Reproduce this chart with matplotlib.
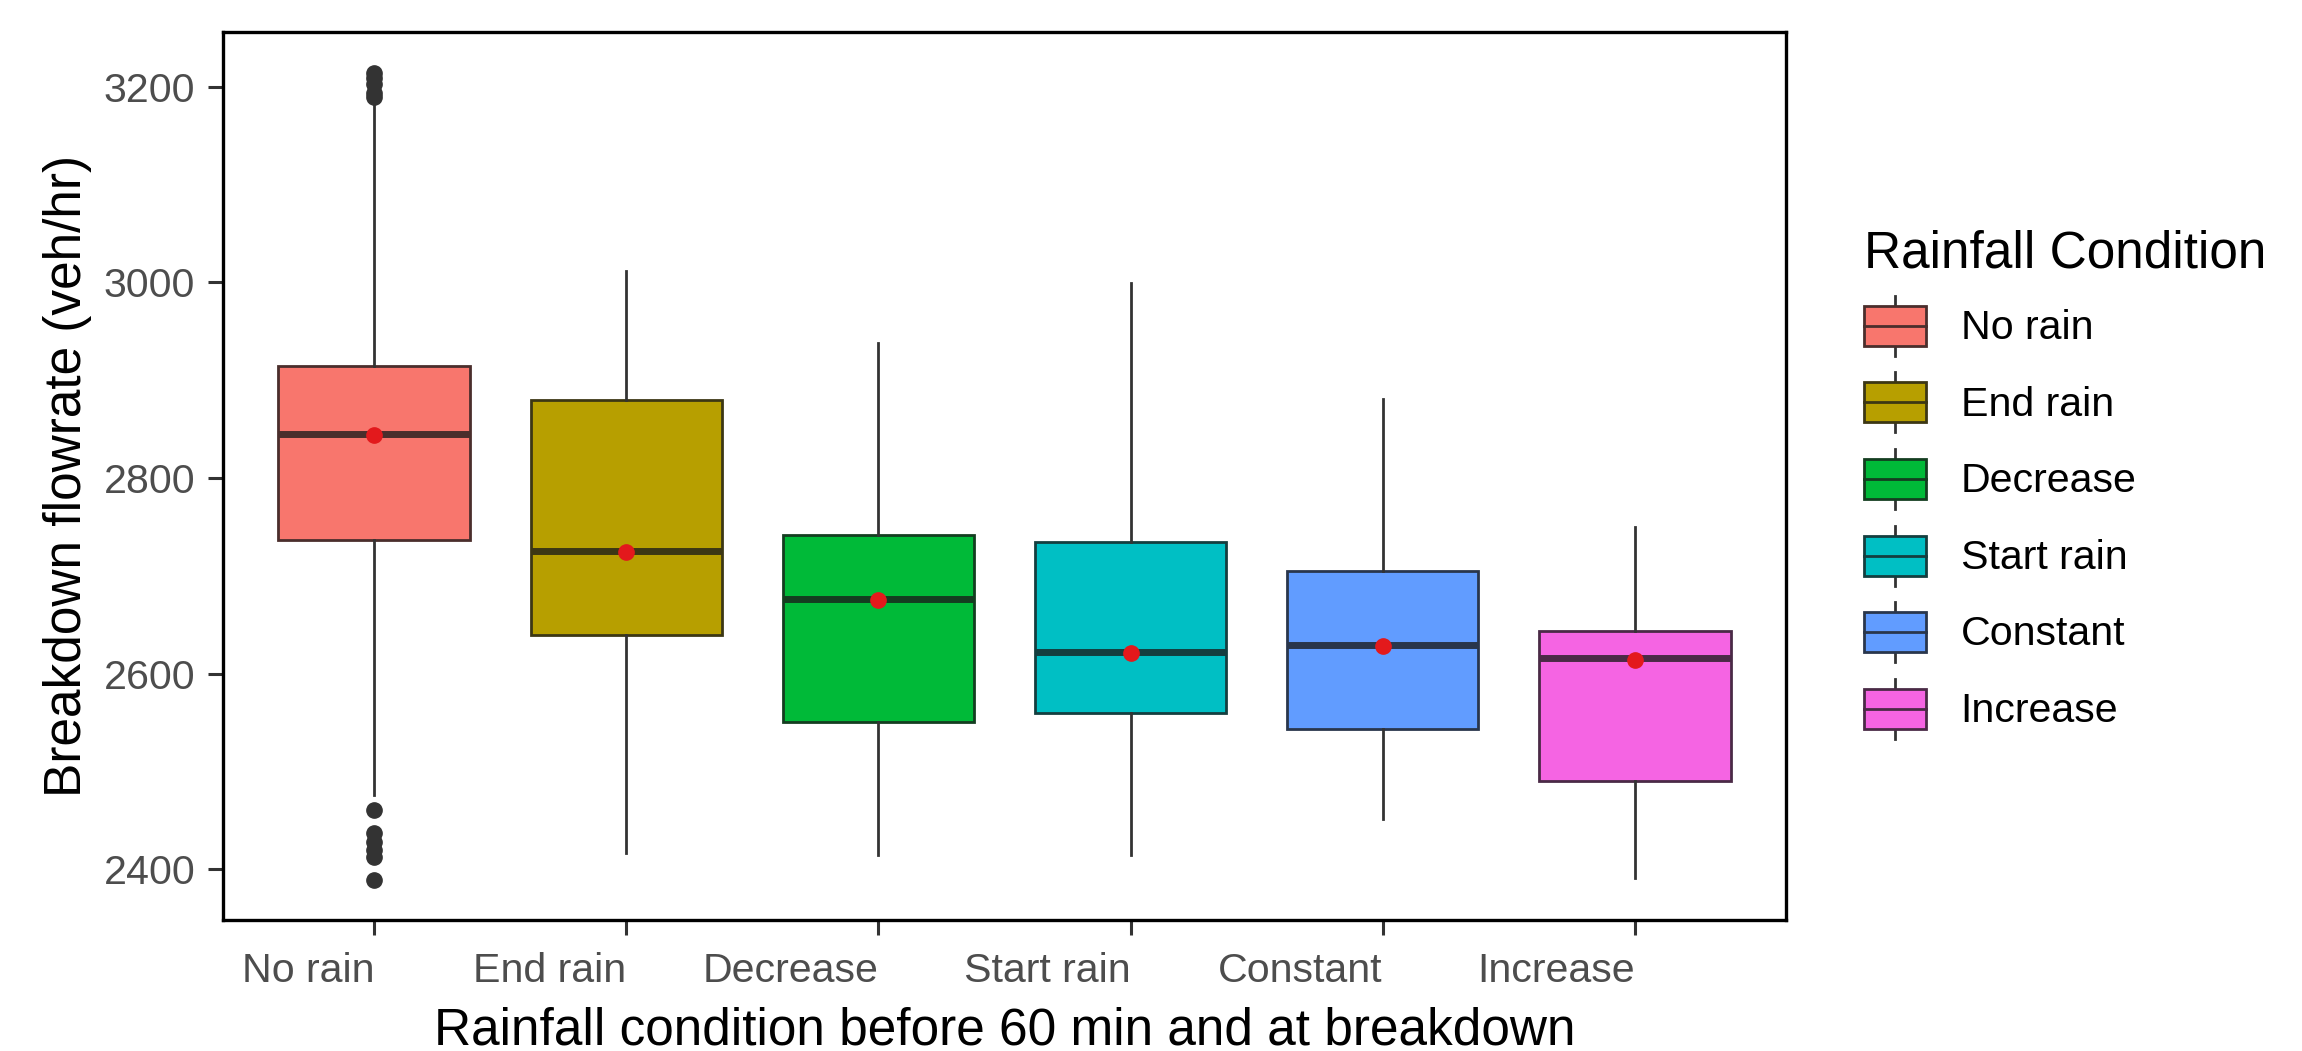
import numpy as np
import matplotlib
matplotlib.use("Agg")
import matplotlib.pyplot as plt
from matplotlib.patches import Rectangle, Patch
from matplotlib.lines import Line2D
from matplotlib.legend_handler import HandlerBase
from matplotlib.colors import to_rgb

plt.rcParams['font.family'] = ['Liberation Sans', 'DejaVu Sans']

categories = ["No rain", "End rain", "Decrease", "Start rain", "Constant", "Increase"]
colors = ["#F8766D", "#B79F00", "#00BA38", "#00BFC4", "#619CFF", "#F564E3"]

q1 = [2737, 2639, 2550, 2560, 2543, 2490]
median = [2845, 2725, 2676, 2622, 2629, 2616]
q3 = [2914, 2880, 2742, 2735, 2705, 2644]
whislo = [2476, 2416, 2414, 2414, 2451, 2391]
whishi = [3182, 3012, 2938, 2999, 2881, 2750]
means = [2844, 2724, 2675, 2621, 2628, 2614]
fliers = [[3190, 3194, 3203, 3209, 3214, 2460, 2437, 2428, 2420, 2412, 2389],
          [], [], [], [], []]


def darken(c, f=0.22):
    r, g, b = to_rgb(c)
    base = 0.1
    return (r * f + base * (1 - f), g * f + base * (1 - f), b * f + base * (1 - f))


class BoxKey(HandlerBase):
    def create_artists(self, legend, orig_handle, xdescent, ydescent,
                       width, height, fontsize, trans):
        fc = orig_handle.get_facecolor()
        ec = orig_handle.get_edgecolor()
        x0, y0 = -xdescent, -ydescent
        xc = x0 + width / 2
        bh = height * 0.67
        yb = y0 + (height - bh) / 2
        wl = Line2D([xc, xc], [y0, y0 + height], color="#333333", lw=2.0, transform=trans)
        box = Rectangle((x0, yb), width, bh, facecolor=fc, edgecolor=ec, lw=2.0, transform=trans)
        med = Line2D([x0, x0 + width], [y0 + height / 2] * 2, color=ec, lw=2.0, transform=trans)
        return [wl, box, med]


stats = []
for i, c in enumerate(categories):
    stats.append(dict(label=c, med=median[i], q1=q1[i], q3=q3[i],
                      whislo=whislo[i], whishi=whishi[i],
                      fliers=np.array(fliers[i]), mean=means[i]))

fig = plt.figure(figsize=(23.02, 10.51), dpi=100)
ax = fig.add_axes([223 / 2302, 1 - 920 / 1051, (1786 - 223) / 2302, (920 - 32) / 1051])

pos = np.arange(1, len(categories) + 1)
bp = ax.bxp(stats, positions=pos, widths=0.76, patch_artist=True,
            showmeans=True, showcaps=False,
            whiskerprops=dict(color="#333333", lw=2.0),
            boxprops=dict(lw=2.0),
            medianprops=dict(lw=5),
            meanprops=dict(marker="o", markerfacecolor="#E3191C", markeredgecolor="#E3191C",
                           markersize=11),
            flierprops=dict(marker="o", markerfacecolor="#333333", markeredgecolor="#333333",
                            markersize=11))

for i, c in enumerate(colors):
    bp["boxes"][i].set_facecolor(c)
    bp["boxes"][i].set_edgecolor(darken(c))
    bp["medians"][i].set_color(darken(c))
    bp["boxes"][i].set_zorder(2)
    bp["medians"][i].set_zorder(3)
    bp["means"][i].set_zorder(4)

ax.set_xlim(0.4, 6.6)
ax.set_ylim(2348, 3256)
ax.set_xticks(pos)
ax.set_xticklabels(categories, ha="right")
ax.set_yticks([2400, 2600, 2800, 3000, 3200])

for s in ax.spines.values():
    s.set_linewidth(2.4)
    s.set_color("black")
ax.tick_params(axis="both", length=11, width=2.2, color="#333333",
               labelsize=29.6, labelcolor="#4D4D4D")
ax.tick_params(axis="y", pad=9)
ax.tick_params(axis="x", pad=12)

ax.set_xlabel("Rainfall condition before 60 min and at breakdown", fontsize=37, labelpad=12)
ax.set_ylabel("Breakdown flowrate (veh/hr)", fontsize=37, labelpad=8)

handles = [Patch(facecolor=c, edgecolor=darken(c)) for c in colors]
leg = fig.legend(handles, categories, handler_map={Patch: BoxKey()},
                 title="Rainfall Condition", title_fontsize=37, fontsize=29.6,
                 loc="upper left", bbox_to_anchor=(1864 / 2302, 1 - 230 / 1051),
                 frameon=False, borderpad=0, borderaxespad=0,
                 handlelength=1.5, handleheight=1.86,
                 labelspacing=0.41, handletextpad=0.85, alignment="left")

fig.savefig("out.png", dpi=100)
